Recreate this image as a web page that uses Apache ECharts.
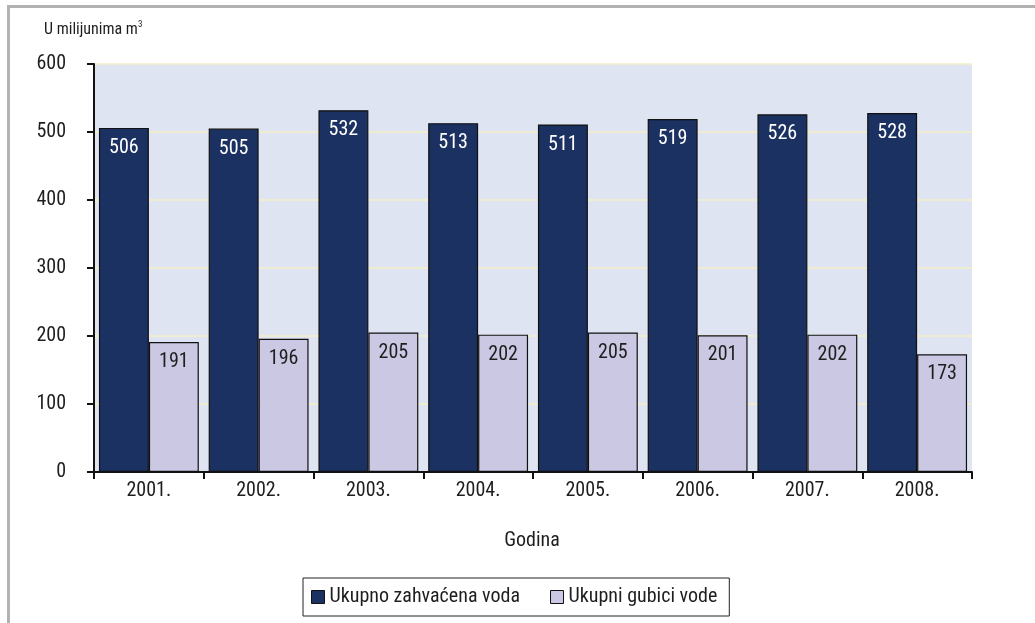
<!DOCTYPE html>
<html><head><meta charset="utf-8">
<script src="https://cdn.jsdelivr.net/npm/echarts@6/dist/echarts.min.js"></script>
<style>html,body{margin:0;padding:0;background:#fff}#c{width:1035px;height:623px}</style>
</head><body><div id="c"></div>
<script>
const categories = ['2001.','2002.','2003.','2004.','2005.','2006.','2007.','2008.'];
const zahvacena = [506,505,532,513,511,519,526,528];
const gubici = [191,196,205,202,205,201,202,173];
const yTicks = [0,100,200,300,400,500,600];
const FONT = "'Roboto Condensed','Liberation Sans',Arial,sans-serif";
const TXT = '#1e1e1e';

const chart = echarts.init(document.getElementById('c'), null, {renderer:'canvas'});
chart.setOption({
  animation:false,
  textStyle:{fontFamily:FONT},
  grid:{left:94,right:63,top:64,bottom:151,show:true,backgroundColor:'#dfe4f2',borderWidth:0},
  graphic:[
    {type:'line',shape:{x1:7,y1:6.5,x2:1035,y2:6.5},style:{stroke:'#b2b2b2',lineWidth:3}},
    {type:'line',shape:{x1:8.5,y1:5,x2:8.5,y2:623},style:{stroke:'#b2b2b2',lineWidth:3}},
    {type:'text',x:44,y:30,style:{text:'U milijunima m{s|3}',verticalAlign:'middle',
      rich:{s:{fontSize:9,verticalAlign:'top',padding:[0,0,10,0],fontFamily:FONT,fill:TXT}},
      font:"16px "+FONT,fill:TXT}},
    {type:'text',x:532,y:541,style:{text:'Godina',align:'center',verticalAlign:'middle',font:"20px "+FONT,fill:TXT}}
  ],
  legend:{
    top:578,left:303,
    itemWidth:13,itemHeight:13,itemGap:30,
    padding:[9,12,9,8],
    borderColor:'#222',borderWidth:1,
    textStyle:{fontSize:20,fontFamily:FONT,color:TXT},
    data:[{name:'Ukupno zahvaćena voda',icon:'rect',itemStyle:{borderColor:'#111',borderWidth:1}},
          {name:'Ukupni gubici vode',icon:'rect',itemStyle:{borderColor:'#111',borderWidth:1}}]
  },
  xAxis:{
    type:'category',data:categories,
    axisLine:{lineStyle:{color:'#111',width:2}},
    axisTick:{show:true,length:7,lineStyle:{color:'#111',width:2}},
    axisLabel:{fontSize:20,color:TXT,margin:9,fontFamily:FONT},
    splitLine:{show:false}
  },
  yAxis:{
    type:'value',min:0,max:600,interval:100,
    axisLine:{show:true,lineStyle:{color:'#111',width:2}},
    axisTick:{show:true,length:7,lineStyle:{color:'#111',width:2}},
    axisLabel:{fontSize:20,color:TXT,margin:28,fontFamily:FONT,
      formatter:v=>yTicks.includes(v)?String(v):''},
    splitLine:{lineStyle:{color:'#f3efc6',width:1.5}}
  },
  series:[
    {name:'Ukupno zahvaćena voda',type:'bar',data:zahvacena,barGap:'0%',barCategoryGap:'9%',
     itemStyle:{color:'#1a3161',borderColor:'#111',borderWidth:1.2},
     label:{show:true,position:'insideTop',distance:10,color:'#fff',fontSize:20,fontFamily:FONT}},
    {name:'Ukupni gubici vode',type:'bar',data:gubici,
     itemStyle:{color:'#cbc8e3',borderColor:'#111',borderWidth:1.2},
     label:{show:true,position:'insideTop',distance:10,color:TXT,fontSize:20,fontFamily:FONT}}
  ]
});
</script></body></html>
